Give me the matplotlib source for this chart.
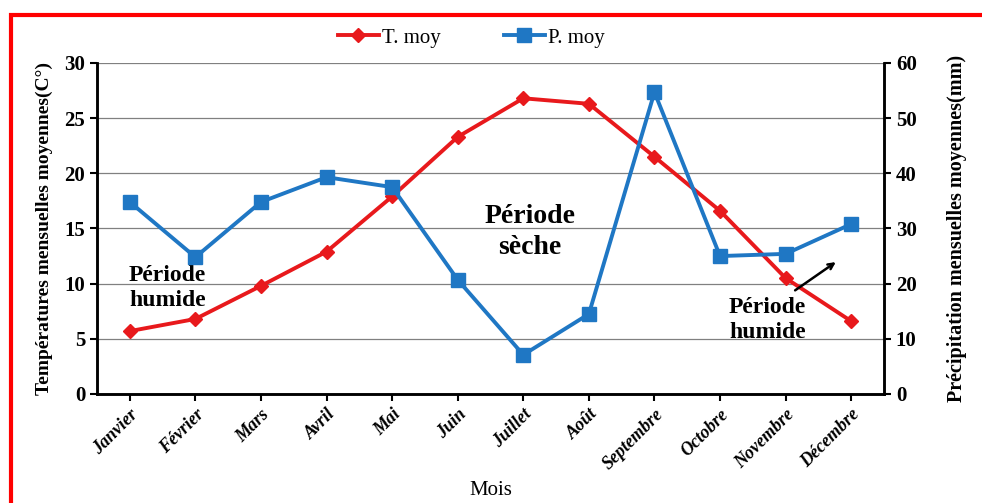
import matplotlib
matplotlib.use('Agg')
import matplotlib.pyplot as plt
from matplotlib.patches import Rectangle

plt.rcParams['font.family'] = ['Liberation Serif', 'DejaVu Serif']

# données
mois = ['Janvier', 'Février', 'Mars', 'Avril', 'Mai', 'Juin', 'Juillet',
        'Août', 'Septembre', 'Octobre', 'Novembre', 'Décembre']
t_moy = [5.7, 6.8, 9.8, 12.9, 17.9, 23.3, 26.8, 26.3, 21.5, 16.6, 10.5, 6.6]
p_moy = [34.8, 24.8, 34.8, 39.3, 37.5, 20.7, 7.1, 14.5, 54.7, 25.0, 25.4, 30.8]

fig = plt.figure(figsize=(9.82, 5.03), dpi=100)
ax1 = fig.add_axes([0.0988, 0.2167, 0.8014, 0.6581])
ax2 = ax1.twinx()

x = range(len(mois))
l1, = ax1.plot(x, t_moy, color='#e8191c', lw=2.8, marker='D', markersize=7, label='T. moy')
l2, = ax2.plot(x, p_moy, color='#1f77c4', lw=2.8, marker='s', markersize=10, label='P. moy')

ax1.set_xlim(-0.5, 11.5)
ax1.set_ylim(0, 30)
ax2.set_ylim(0, 60)
ax1.set_yticks(range(0, 31, 5))
ax2.set_yticks(range(0, 61, 10))
ax1.yaxis.grid(True, color='#808080', lw=0.9)
ax1.set_axisbelow(True)

ax1.set_xticks(list(x))
ax1.set_xticklabels(mois, rotation=45, ha='right', rotation_mode='anchor',
                    fontsize=13, fontweight='bold', style='italic')
for ax in (ax1, ax2):
    ax.spines['top'].set_visible(False)
    for s in ('left', 'right', 'bottom'):
        ax.spines[s].set_linewidth(1.8)
    ax.tick_params(width=1.5, length=5, labelsize=15)
ax1.tick_params(axis='x', labelsize=13)
for lab in ax1.get_yticklabels() + ax2.get_yticklabels():
    lab.set_fontweight('bold')

ax1.set_ylabel('Températures mensuelles moyennes(C°)', fontsize=14, fontweight='bold', labelpad=8)
ax2.set_ylabel('Précipitation mensuelles moyennes(mm)', fontsize=14.5, fontweight='bold', labelpad=22)
ax1.set_xlabel('Mois', fontsize=15, labelpad=6)

fig.legend(handles=[l1, l2], loc='center', bbox_to_anchor=(0.48, 0.925), ncol=2,
           frameon=False, fontsize=15, handlelength=2.0, columnspacing=3.0, handletextpad=0.15)

# annotations
ax1.text(0.57, 11.7, 'Période\nhumide', fontsize=17, fontweight='bold', ha='center', va='top',
         linespacing=1.25)
ax1.text(6.1, 17.2, 'Période\nsèche', fontsize=20, fontweight='bold', ha='center', va='top',
         linespacing=1.3)
ax1.text(9.72, 8.8, 'Période\nhumide', fontsize=17, fontweight='bold', ha='center', va='top',
         linespacing=1.25)
ax1.annotate('', xy=(10.8, 12.1), xytext=(10.11, 9.25),
             arrowprops=dict(arrowstyle='->', color='black', lw=1.8))

# cadre rouge
fig.patches.append(Rectangle((0.011, -0.1), 1.2, 1.071, transform=fig.transFigure,
                             fill=False, edgecolor='#ff0000', lw=3, clip_on=False))

fig.savefig('out.png', dpi=100)
